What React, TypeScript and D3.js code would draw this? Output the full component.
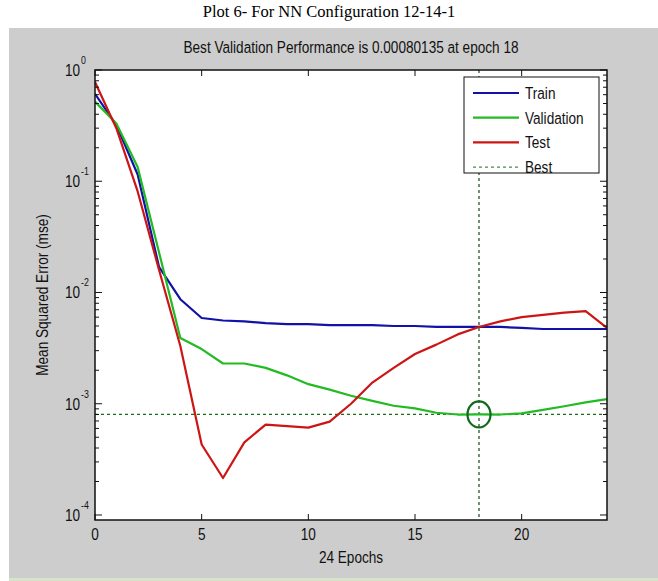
import React from "react";
import * as d3 from "d3";

const width = 658;
const height = 581;
const margin = { top: 70, right: 51, bottom: 61, left: 95 };

// per-epoch mse values
const epochs = [0, 1, 2, 3, 4, 5, 6, 7, 8, 9, 10, 11, 12, 13, 14, 15, 16, 17, 18, 19, 20, 21, 22, 23, 24];
const train = [0.61, 0.32, 0.115, 0.017, 0.0087, 0.0059, 0.0056, 0.0055, 0.0053, 0.0052, 0.0052, 0.0051, 0.0051, 0.0051, 0.005, 0.005, 0.0049, 0.0049, 0.0049, 0.0049, 0.0048, 0.0047, 0.0047, 0.0047, 0.0047];
const validation = [0.52, 0.33, 0.134, 0.023, 0.0039, 0.0031, 0.0023, 0.0023, 0.0021, 0.0018, 0.0015, 0.00134, 0.00118, 0.00106, 0.00096, 0.00091, 0.00083, 0.0008, 0.00080135, 0.0008, 0.00082, 0.00088, 0.00095, 0.00103, 0.0011];
const test = [0.78, 0.3, 0.081, 0.016, 0.0033, 0.00043, 0.000215, 0.00045, 0.00065, 0.00063, 0.00061, 0.00069, 0.001, 0.00155, 0.0021, 0.0028, 0.0034, 0.0042, 0.0049, 0.0055, 0.006, 0.0063, 0.0066, 0.0068, 0.0048];

const bestEpoch = 18;
const bestPerf = 0.00080135;

const xTicks = [0, 5, 10, 15, 20];
const yDecades = [-4, -3, -2, -1, 0];
const legendLabels = ["Train", "Validation", "Test", "Best"];

const series = [
  { name: "Train", values: train, color: "#1212a8" },
  { name: "Validation", values: validation, color: "#22bb22" },
  { name: "Test", values: test, color: "#cc1515" },
];

const x = d3.scaleLinear([0, 24], [margin.left, width - margin.right]);
const y = d3.scaleLog([Math.pow(10, -4.045), 1], [height - margin.bottom, margin.top]);

const FONT = "'Liberation Sans', Arial, sans-serif";

function T(props: { x: number; y: number; size: number; anchor?: string; rotate?: number; children: any }) {
  const rot = props.rotate ? ` rotate(${props.rotate})` : "";
  return (
    <text
      transform={`translate(${props.x},${props.y})${rot} scale(0.8,1)`}
      fontSize={props.size}
      fontFamily={FONT}
      textAnchor={props.anchor || "start"}
      fill="#111"
    >
      {props.children}
    </text>
  );
}

export default function App() {
  const line = d3
    .line<number>()
    .x((d, i) => x(epochs[i]))
    .y((d) => y(d));

  const [x0, x1] = x.range();
  const [y0, y1] = y.range();

  const minor: number[] = [];
  yDecades.slice(0, -1).forEach((p) => {
    for (let k = 2; k <= 9; k++) minor.push(k * Math.pow(10, p));
  });
  const lowMinor = [9 * Math.pow(10, -5)].filter((v) => y(v) <= y0);

  const lx = 464, ly = 77, lw = 135, lh = 96;

  return (
    <svg width={width} height={height} style={{ position: "absolute", left: 0, top: 0 }}>
      <rect x={0} y={0} width={width} height={height} fill="#fff" />
      <text x={329} y={17} textAnchor="middle" fontFamily="'Liberation Serif', 'Times New Roman', serif" fontSize={16.5} fill="#000">
        Plot 6- For NN Configuration 12-14-1
      </text>
      <rect x={9} y={28} width={width - 9} height={550} fill="#cdcdcd" />
      <rect x={9} y={578} width={width - 9} height={3} fill="#d9e3c8" />

      <T x={(x0 + x1) / 2} y={53} size={17} anchor="middle">
        Best Validation Performance is 0.00080135 at epoch 18
      </T>

      <rect x={x0} y={y1} width={x1 - x0} height={y0 - y1} fill="#fff" />

      <defs>
        <clipPath id="plot-clip">
          <rect x={x0} y={y1} width={x1 - x0} height={y0 - y1} />
        </clipPath>
      </defs>

      {/* best lines */}
      <line x1={x0} x2={x1} y1={y(bestPerf)} y2={y(bestPerf)} stroke="#1a6e1a" strokeWidth={1.2} strokeDasharray="3,3" />
      <line x1={x(bestEpoch)} x2={x(bestEpoch)} y1={y1} y2={y0} stroke="#134a13" strokeWidth={1.2} strokeDasharray="3,3" />

      <g clipPath="url(#plot-clip)">
        {series.map((s) => (
          <path key={s.name} d={line(s.values) || ""} fill="none" stroke={s.color} strokeWidth={2.2} strokeLinejoin="round" />
        ))}
      </g>

      <ellipse cx={x(bestEpoch)} cy={y(bestPerf)} rx={11.5} ry={13} fill="none" stroke="#0f6a1a" strokeWidth={2.2} />

      {/* axes box and ticks */}
      <rect x={x0} y={y1} width={x1 - x0} height={y0 - y1} fill="none" stroke="#111" strokeWidth={1.5} />
      {xTicks.map((t) => (
        <g key={"xt" + t}>
          <line x1={x(t)} x2={x(t)} y1={y0} y2={y0 - 6} stroke="#111" />
          <line x1={x(t)} x2={x(t)} y1={y1} y2={y1 + 6} stroke="#111" />
          <T x={x(t)} y={540} size={17} anchor="middle">
            {String(t)}
          </T>
        </g>
      ))}
      {yDecades.map((p) => {
        const yy = y(Math.pow(10, p));
        return (
          <g key={"yt" + p}>
            <line x1={x0} x2={x0 + 7} y1={yy} y2={yy} stroke="#111" />
            <line x1={x1} x2={x1 - 7} y1={yy} y2={yy} stroke="#111" />
            <T x={80} y={yy + 6} size={17} anchor="end">
              10
            </T>
            <T x={81} y={yy - 6} size={11}>
              {String(p)}
            </T>
          </g>
        );
      })}
      {minor.concat(lowMinor).map((v, i) => (
        <g key={"mn" + i}>
          <line x1={x0} x2={x0 + 4} y1={y(v)} y2={y(v)} stroke="#111" />
          <line x1={x1} x2={x1 - 4} y1={y(v)} y2={y(v)} stroke="#111" />
        </g>
      ))}

      <T x={(x0 + x1) / 2} y={563} size={17} anchor="middle">
        24 Epochs
      </T>
      <T x={48} y={(y0 + y1) / 2} size={17} anchor="middle" rotate={-90}>
        Mean Squared Error  (mse)
      </T>

      {/* legend */}
      <rect x={lx} y={ly} width={lw} height={lh} fill="#fff" stroke="#111" strokeWidth={1} />
      {legendLabels.map((name, i) => {
        const yy = ly + 16 + i * 24.7;
        const s = series[i];
        return (
          <g key={"lg" + name}>
            {s ? (
              <line x1={lx + 9} x2={lx + 55} y1={yy} y2={yy} stroke={s.color} strokeWidth={2.2} />
            ) : (
              <line x1={lx + 9} x2={lx + 55} y1={yy} y2={yy} stroke="#1a6e1a" strokeWidth={1} strokeDasharray="3,3" />
            )}
            <T x={lx + 61} y={yy + 6} size={17}>
              {name}
            </T>
          </g>
        );
      })}
    </svg>
  );
}
